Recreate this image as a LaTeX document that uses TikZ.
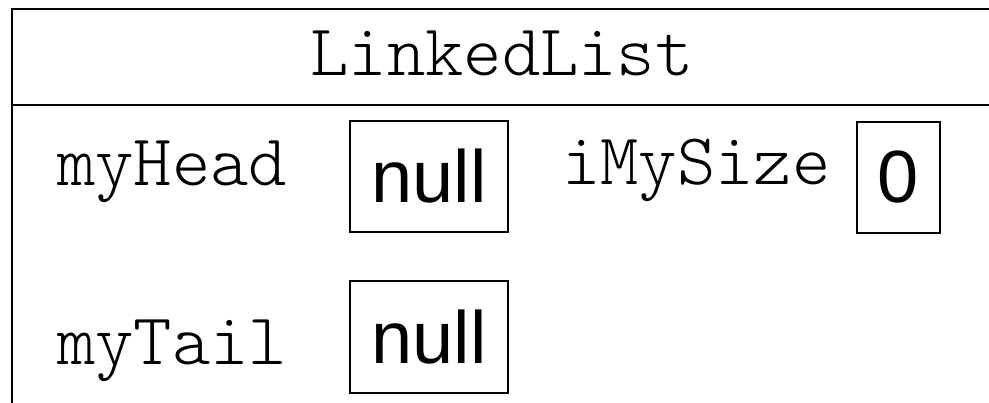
\documentclass[tikz,border=0pt]{standalone}
\usepackage{fontspec}
\usepackage{tikz}
\usetikzlibrary{positioning}
\newfontfamily\codefont{Latin Modern Mono Light}
\newfontfamily\valfont{Liberation Sans}
\newcommand{\codesize}{\fontsize{73}{73}\selectfont}
\newcommand{\valsize}{\fontsize{74}{74}\selectfont}
\newcommand{\frameoutline}{\draw[line width=2pt] (12,403) -- (12,9) -- (989,9);
					\draw[line width=2pt] (12,105) -- (989,105);}
\tikzset{field/.style={anchor=base west, inner sep=0pt, font=\codefont\codesize},
	valbox/.style={draw, line width=1.2pt, inner sep=0pt, font=\valfont\valsize}}

\begin{document}
\begin{tikzpicture}[x=1pt, y=-1pt]
				
					\useasboundingbox (0,0) rectangle (989,403);
					
					% class box, cut off at right and bottom
					\frameoutline
					
					\node[anchor=base, inner sep=0pt, font=\codefont\codesize] (title) at (502,76) {LinkedList};
					
					% fields
					\node[field] (head) at (57,186) {myHead};
					\node[field] (size) at (562,185) {iMySize};
					\node[field] (tail) at (57,365) {myTail};
					
					% values
					\node[valbox, minimum width=158pt, minimum height=111pt] (headval) at (429,176.5) {null};
					\node[valbox, minimum width=83pt, minimum height=111pt] (sizeval) at (898.5,177.5) {0};
					\node[valbox, minimum width=158pt, minimum height=112pt] (tailval) at (429,337) {null};
										
				\end{tikzpicture}
\end{document}
